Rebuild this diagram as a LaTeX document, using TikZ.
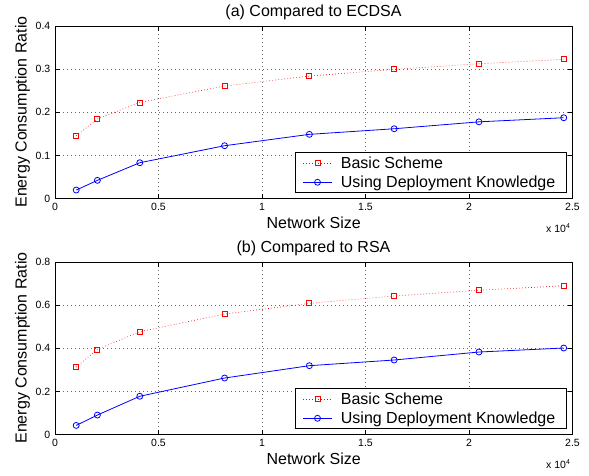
\documentclass[tikz,border=0pt]{standalone}
\usepackage{fontspec}
\setmainfont{Liberation Sans}
\usepackage{tikz}
\usetikzlibrary{positioning}

\tikzset{
  gridline/.style={black!60, line width=0.5pt, dash pattern=on 0.7pt off 3.3pt},
  axisline/.style={black, line width=0.7pt},
  basicline/.style={red, line width=0.6pt, dash pattern=on 0.7pt off 2.3pt},
  deployline/.style={blue, line width=0.8pt},
  sqmark/.style={rectangle, draw=red, line width=0.8pt, minimum size=5pt, inner sep=0pt},
  circmark/.style={circle, draw=blue, line width=0.8pt, minimum size=6pt, inner sep=0pt},
  ticklabel/.style={font=\fontsize{10.5}{12}\selectfont, inner sep=0pt},
  biglabel/.style={font=\fontsize{16}{18}\selectfont, inner sep=0pt},
}

\begin{document}
\begin{tikzpicture}[x=1pt, y=1pt]

\useasboundingbox (0,0) rectangle (589,476);

% (a) Compared to ECDSA
\begin{scope}
\begin{scope}[shift={(55,277.3)}, x=207pt, y=431.75pt]
  \foreach \x in {0.5,1,1.5,2}
    \draw[gridline] (\x,0) -- (\x,0.4);
  \foreach \y in {0.1,0.2,0.3}
    \draw[gridline] (0,\y) -- (2.5,\y);
  \foreach \x in {0,0.5,1,1.5,2,2.5} {
    \draw[axisline] (\x,0) -- ++(0,5pt);
    \draw[axisline] (\x,0.4) -- ++(0,-5pt);
    \node[ticklabel, anchor=base] (xta\x) at ([yshift=-12pt]\x,0) {\x};
  }
  \foreach \y in {0,0.1,0.2,0.3,0.4} {
    \draw[axisline] (0,\y) -- ++(5pt,0);
    \draw[axisline] (2.5,\y) -- ++(-5pt,0);
    \node[ticklabel, anchor=east] (yta\y) at ([xshift=-4.5pt]0,\y) {\y};
  }
  \foreach \x/\y [count=\i] in {0.1024/0.146, 0.2048/0.1845, 0.4096/0.223, 0.8192/0.261,
      1.2288/0.284, 1.6384/0.2995, 2.048/0.3125, 2.4576/0.3227}
    \node[sqmark] (sa\i) at (\x,\y) {};
  \foreach \x/\y [count=\i] in {0.1024/0.020, 0.2048/0.0425, 0.4096/0.0833, 0.8192/0.1227,
      1.2288/0.149, 1.6384/0.162, 2.048/0.178, 2.4576/0.1875}
    \node[circmark] (ka\i) at (\x,\y) {};
  \draw[basicline] (sa1.center) \foreach \i in {2,...,8} {-- (sa\i.center)};
  \draw[deployline] (ka1.center) \foreach \i in {2,...,8} {-- (ka\i.center)};
  \draw[axisline] (0,0) rectangle (2.5,0.4);
\end{scope}

% legend
\draw[axisline, fill=white] (295.7,283.3) rectangle (566,323.7);
\draw[basicline] (303.3,312.7) -- (331.7,312.7);
\node[sqmark] (lsa) at (317.5,312.7) {};
\node[biglabel, anchor=base west] (lta) at (340.7,307) {Basic Scheme};
\draw[deployline] (303.3,293.7) -- (331.7,293.7);
\node[circmark] (lka) at (317.5,293.7) {};
\node[biglabel, anchor=base west] (lua) at (340.7,288.2) {Using Deployment Knowledge};

\node[biglabel, anchor=base] (titlea) at (313.5,459.3) {(a) Compared to ECDSA};
\node[biglabel, anchor=base] (xlaba) at (313.7,247) {Network Size};
\node[biglabel, anchor=base, rotate=90] (ylaba) at (26.5,364) {Energy Consumption Ratio};
\node[ticklabel, anchor=base west] (expa) at (546,243.7)
  {x 10\raisebox{4pt}{\fontsize{7}{8}\selectfont 4}};
\end{scope}

% (b) Compared to RSA
\begin{scope}[yshift=-236pt]
\begin{scope}[shift={(55,277.3)}, x=207pt, y=215.875pt]
  \foreach \x in {0.5,1,1.5,2}
    \draw[gridline] (\x,0) -- (\x,0.8);
  \foreach \y in {0.2,0.4,0.6}
    \draw[gridline] (0,\y) -- (2.5,\y);
  \foreach \x in {0,0.5,1,1.5,2,2.5} {
    \draw[axisline] (\x,0) -- ++(0,5pt);
    \draw[axisline] (\x,0.8) -- ++(0,-5pt);
    \node[ticklabel, anchor=base] (xtb\x) at ([yshift=-12pt]\x,0) {\x};
  }
  \foreach \y in {0,0.2,0.4,0.6,0.8} {
    \draw[axisline] (0,\y) -- ++(5pt,0);
    \draw[axisline] (2.5,\y) -- ++(-5pt,0);
    \node[ticklabel, anchor=east] (ytb\y) at ([xshift=-4.5pt]0,\y) {\y};
  }
  \foreach \x/\y [count=\i] in {0.1024/0.3135, 0.2048/0.395, 0.4096/0.477, 0.8192/0.559,
      1.2288/0.6085, 1.6384/0.6425, 2.048/0.669, 2.4576/0.690}
    \node[sqmark] (sb\i) at (\x,\y) {};
  \foreach \x/\y [count=\i] in {0.1024/0.043, 0.2048/0.091, 0.4096/0.178, 0.8192/0.2625,
      1.2288/0.3197, 1.6384/0.346, 2.048/0.383, 2.4576/0.4015}
    \node[circmark] (kb\i) at (\x,\y) {};
  \draw[basicline] (sb1.center) \foreach \i in {2,...,8} {-- (sb\i.center)};
  \draw[deployline] (kb1.center) \foreach \i in {2,...,8} {-- (kb\i.center)};
  \draw[axisline] (0,0) rectangle (2.5,0.8);
\end{scope}

% legend
\draw[axisline, fill=white] (295.7,283.3) rectangle (566,323.7);
\draw[basicline] (303.3,312.7) -- (331.7,312.7);
\node[sqmark] (lsb) at (317.5,312.7) {};
\node[biglabel, anchor=base west] (ltb) at (340.7,307) {Basic Scheme};
\draw[deployline] (303.3,293.7) -- (331.7,293.7);
\node[circmark] (lkb) at (317.5,293.7) {};
\node[biglabel, anchor=base west] (lub) at (340.7,288.2) {Using Deployment Knowledge};

\node[biglabel, anchor=base] (titleb) at (313.5,459.3) {(b) Compared to RSA};
\node[biglabel, anchor=base] (xlabb) at (313.7,247) {Network Size};
\node[biglabel, anchor=base, rotate=90] (ylabb) at (26.5,364) {Energy Consumption Ratio};
\node[ticklabel, anchor=base west] (expb) at (546,243.7)
  {x 10\raisebox{4pt}{\fontsize{7}{8}\selectfont 4}};
\end{scope}

\end{tikzpicture}
\end{document}
